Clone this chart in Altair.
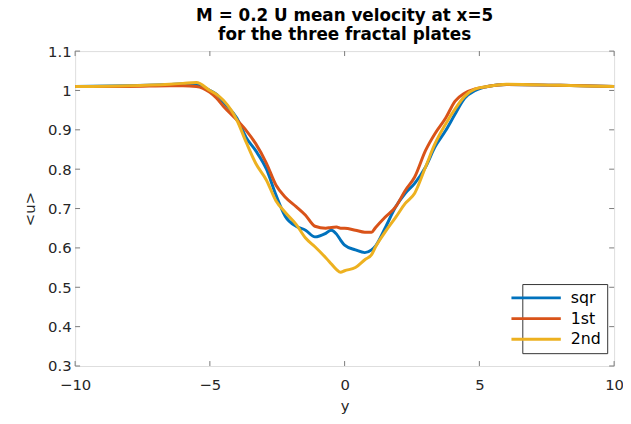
import altair as alt
import pandas as pd

# positions along y (horizontal axis)
x_vals = [-10, -8, -6.5, -6, -5.5, -5, -4.75, -4.5, -4, -3.65, -3.3, -2.9, -2.55, -2.2,
          -1.8, -1.45, -1.1, -0.7, -0.5, -0.3, -0.15, 0, 0.4, 0.75, 1.0, 1.15, 1.5, 1.9,
          2.25, 2.6, 3.0, 3.35, 3.75, 4.1, 4.45, 4.85, 5.3, 6, 8, 10]

sqr = [1.01, 1.012, 1.015, 1.017, 1.015, 1.0, 0.99, 0.97, 0.93, 0.88, 0.847, 0.8, 0.735, 0.68,
       0.655, 0.645, 0.628, 0.637, 0.645, 0.635, 0.62, 0.607, 0.595, 0.588, 0.595, 0.605, 0.65, 0.705,
       0.739, 0.764, 0.805, 0.856, 0.898, 0.94, 0.98, 1.0, 1.01, 1.015, 1.013, 1.01]

first = [1.01, 1.01, 1.012, 1.012, 1.01, 0.995, 0.98, 0.96, 0.925, 0.898, 0.865, 0.815, 0.76, 0.729,
         0.705, 0.683, 0.655, 0.65, 0.652, 0.653, 0.65, 0.65, 0.645, 0.64, 0.64, 0.652, 0.678, 0.705,
         0.746, 0.78, 0.847, 0.89, 0.93, 0.973, 0.993, 1.004, 1.01, 1.015, 1.013, 1.01]

second = [1.01, 1.012, 1.016, 1.018, 1.02, 1.0, 0.99, 0.975, 0.925, 0.868, 0.815, 0.772, 0.72, 0.69,
          0.66, 0.625, 0.603, 0.575, 0.56, 0.545, 0.538, 0.542, 0.55, 0.57, 0.583, 0.603, 0.64, 0.678,
          0.713, 0.739, 0.805, 0.864, 0.915, 0.953, 0.985, 1.004, 1.01, 1.016, 1.013, 1.01]

series_names = ["sqr", "1st", "2nd"]
series_colors = ["#0072BD", "#D95319", "#EDB120"]
x_ticks = [-10, -5, 0, 5, 10]
y_ticks = [0.3, 0.4, 0.5, 0.6, 0.7, 0.8, 0.9, 1.0, 1.1]

rows = []
for name, vals in zip(series_names, [sqr, first, second]):
    for i, (xv, v) in enumerate(zip(x_vals, vals)):
        rows.append({"y": xv, "u": v, "series": name, "idx": i})
df = pd.DataFrame(rows)

W, H = 546, 319
FONT = "DejaVu Sans"
AX = "#7a7a7a"
TXT = "#262626"

xscale = alt.Scale(domain=[-10, 10], nice=False)
yscale = alt.Scale(domain=[0.3, 1.1], nice=False, zero=False)

xaxis = alt.Axis(values=x_ticks, title="y", grid=False, domain=False, ticks=False,
                 labelOverlap=False, labelFlush=False,
                 labelFont=FONT, labelFontSize=15, labelColor=TXT, labelPadding=12,
                 titleFont=FONT, titleFontSize=15, titleColor=TXT, titleFontWeight="normal",
                 titlePadding=6)
yaxis = alt.Axis(values=y_ticks, title="<u>", format="~g", grid=False, domain=False, ticks=False,
                 labelOverlap=False, labelFlush=False,
                 labelFont=FONT, labelFontSize=15, labelColor=TXT, labelPadding=4,
                 titleFont=FONT, titleFontSize=15, titleColor=TXT, titleFontWeight="normal",
                 titlePadding=10)

lines = alt.Chart(df).mark_line(strokeWidth=3, interpolate="monotone").encode(
    x=alt.X("y:Q", scale=xscale, axis=xaxis),
    y=alt.Y("u:Q", scale=yscale, axis=yaxis),
    color=alt.Color("series:N", sort=series_names,
                    scale=alt.Scale(domain=series_names, range=series_colors),
                    legend=alt.Legend(title=None, orient="none", legendX=453, legendY=236,
                                      symbolType="M-5,0H5", symbolSize=100, symbolStrokeWidth=3,
                                      labelFont=FONT, labelFontSize=16, labelColor="#000",
                                      strokeColor="#333", fillColor="white", padding=6,
                                      labelOffset=27, rowPadding=5)),
    order="idx:Q",
)

xt = pd.DataFrame({"t": x_ticks})
yt = pd.DataFrame({"t": y_ticks})
tick_len = 5
bottom_t = alt.Chart(xt).mark_rule(color=AX, strokeWidth=1).encode(
    x=alt.X("t:Q", scale=xscale, axis=xaxis), y=alt.value(H), y2=alt.value(H - tick_len))
top_t = alt.Chart(xt).mark_rule(color=AX, strokeWidth=1).encode(
    x=alt.X("t:Q", scale=xscale, axis=xaxis), y=alt.value(0), y2=alt.value(tick_len))
left_t = alt.Chart(yt).mark_rule(color=AX, strokeWidth=1).encode(
    y=alt.Y("t:Q", scale=yscale, axis=yaxis), x=alt.value(0), x2=alt.value(tick_len))
right_t = alt.Chart(yt).mark_rule(color=AX, strokeWidth=1).encode(
    y=alt.Y("t:Q", scale=yscale, axis=yaxis), x=alt.value(W), x2=alt.value(W - tick_len))

chart = alt.layer(lines, bottom_t, top_t, left_t, right_t).properties(
    width=W, height=H,
    autosize="none",
    padding={"left": 68, "top": 41, "right": 9, "bottom": 48},
    title=alt.TitleParams(
        text=["M = 0.2 U mean velocity at x=5", "for the three fractal plates"],
        font=FONT, fontSize=17, fontWeight="bold", color="#000",
        anchor="middle", offset=0, lineHeight=19),
).configure_view(stroke=AX, strokeWidth=1.2).configure(background="white")

chart.save("out.html", embed_options={"renderer": "svg", "actions": False})
